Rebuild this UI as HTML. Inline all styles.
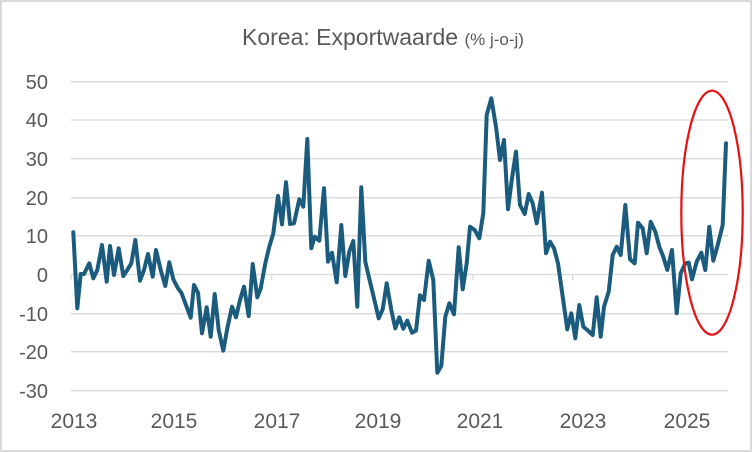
<!DOCTYPE html>
<html><head><meta charset="utf-8"><style>
body{margin:0;background:#fff;}
svg{display:block;font-family:"Liberation Sans",sans-serif;}
</style></head><body>
<svg width="752" height="452" viewBox="0 0 752 452">
<rect x="1" y="1" width="750" height="450" fill="#fff" stroke="#d9d9d9" stroke-width="2"/>
<text x="383" y="45" text-anchor="middle" fill="#595959" font-size="23">Korea: Exportwaarde <tspan font-size="17">(% j-o-j)</tspan></text>
<g stroke="#d9d9d9" stroke-width="1.3">
<line x1="71" x2="728" y1="81.7" y2="81.7"/><line x1="71" x2="728" y1="120" y2="120"/>
<line x1="71" x2="728" y1="158.7" y2="158.7"/><line x1="71" x2="728" y1="197.7" y2="197.7"/>
<line x1="71" x2="728" y1="235.7" y2="235.7"/><line x1="71" x2="728" y1="274.5" y2="274.5"/>
<line x1="71" x2="728" y1="313.7" y2="313.7"/><line x1="71" x2="728" y1="351.7" y2="351.7"/>
<line x1="71" x2="728" y1="390.7" y2="390.7"/>
<line x1="71" x2="71" y1="274.5" y2="280"/><line x1="271.7" x2="271.7" y1="274.5" y2="280"/>
<line x1="473" x2="473" y1="274.5" y2="280"/><line x1="572.7" x2="572.7" y1="274.5" y2="280"/>
</g>
<g fill="#595959" font-size="20" text-anchor="end">
<text x="48" y="89">50</text><text x="48" y="127">40</text><text x="48" y="166">30</text>
<text x="48" y="205">20</text><text x="48" y="243">10</text><text x="48" y="282">0</text>
<text x="48" y="321">-10</text><text x="48" y="359">-20</text><text x="48" y="398">-30</text>
</g>
<g fill="#595959" font-size="21" text-anchor="middle">
<text x="74" y="428">2013</text><text x="174" y="428">2015</text><text x="277" y="428">2017</text>
<text x="378" y="428">2019</text><text x="480" y="428">2021</text><text x="583" y="428">2023</text>
<text x="687" y="428">2025</text>
</g>
<polyline fill="none" stroke="#1b5c7e" stroke-width="4" stroke-linejoin="round" stroke-linecap="round" points="
73.3,232.3 77.3,308.3 80.7,274 84,274 89.3,263.3 93.3,278.3 97.3,270 102,245 106.7,281.7 110,246 114,275 118.7,248.3 123.3,276 127.3,270 131.3,263.3 135.3,240 140,280.7 144,270 148,254 152.7,276.7 156,250 160.7,270 165.3,286 169.3,262.3 173.3,279.3 178,288.3 181.3,292.7 186,305 190.7,317.7 194,285 198,292.7 202,333.3 206.7,307.3 210.7,336.7 214.7,294 218.7,330 223.3,350.7 227.3,328.3 232,306.7 236,317.3 240,300 244,286.7 248.7,316 252.7,264 257.3,297.3 260.7,288.3 265.3,263.3 269.3,246.7 273.3,233.3 278,196 282,224.3 286,182.3 290,224 294,223.3 299.3,199.3 303.3,206.7 307.3,139 311.3,248.3 314.7,236.7 319.3,240.7 324,188.3 328,261.7 332,252.7 336.7,282.3 341.3,225 345.3,276 349.3,251.7 353.3,241 357.3,306.7 361.3,187.3 365.3,261.7 370,281.7 374,298.3 378.7,318.3 382.7,309.3
386.7,283.3 391.3,310 395.3,328.3 399.3,317.3 403.3,328.7 407.3,320.7 412,332.7 416,330.7 420,295.3 424,300 428.7,260.7 433.3,280 437.3,372.7 441.3,366 445.3,316.7 449.3,303.3 454,314.3 458.7,247.3 462.7,289.3 466.7,263.3 470,226.7 474.7,230 479.3,238.3 483.3,213.3 486.7,115 491.3,98.3 496,126.7 500,160 504,140 508,209.3 512,178.3 516,151.7 520,205 524.7,214 528.7,194 532.7,203.3 536.7,223.3 542,192.7 546,253.3 550,241.7 554,248.3 558,263.3 562.7,296.7 567.3,329.3 571.3,313.3 575.3,338.3 579.3,305 583.3,326.7 587.3,330 592.7,335 596.7,297.3 600.7,336.7 604,306.7 608.7,291.7 612.7,255 616.7,246.7 620.7,255 625.3,205 630,259.3 634.7,263.3 638,222.7 642.7,228.3 646.7,253.3 650.7,221.7 655.3,231.7 659.3,246.7 663.3,256.7 667.3,270 672,250 676.7,313.3 680.7,273.3 685.3,263.3 688.7,262.7 692,279.3 696.7,261.7 701.3,252.7 705.3,270 709.3,226.7 713.3,260.7 717.3,246.7 722.7,225 726,143.3"/>
<ellipse cx="712" cy="212.7" rx="30.7" ry="122" fill="none" stroke="#e81010" stroke-width="2.2"/>
</svg>
</body></html>
